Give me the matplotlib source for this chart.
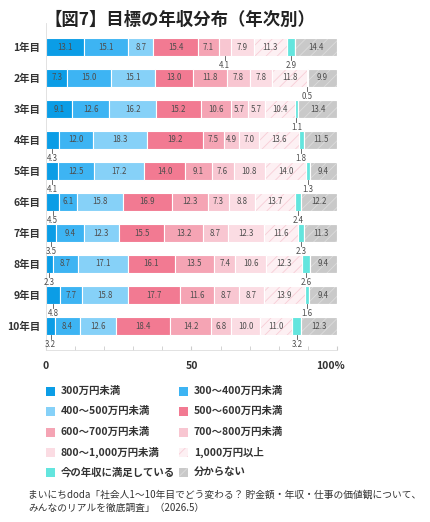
import matplotlib
matplotlib.use("Agg")
import matplotlib.pyplot as plt
from matplotlib.patches import Rectangle
from matplotlib.transforms import ScaledTranslation
import numpy as np

plt.rcParams['font.family'] = ['Noto Sans CJK JP', 'DejaVu Sans']
plt.rcParams['hatch.linewidth'] = 0.6

title = "【図7】目標の年収分布（年次別）"
years = ["1年目", "2年目", "3年目", "4年目", "5年目",
         "6年目", "7年目", "8年目", "9年目", "10年目"]
categories = ["300万円未満", "300〜400万円未満", "400〜500万円未満", "500〜600万円未満",
              "600〜700万円未満", "700〜800万円未満", "800〜1,000万円未満", "1,000万円以上",
              "今の年収に満足している", "分からない"]

# rows = years, columns = categories (%)
values = [
    [13.1, 15.1, 8.7, 15.4, 7.1, 4.1, 7.9, 11.3, 2.9, 14.4],
    [7.3, 15.0, 15.1, 13.0, 11.8, 7.8, 7.8, 11.8, 0.5, 9.9],
    [9.1, 12.6, 16.2, 15.2, 10.6, 5.7, 5.7, 10.4, 1.1, 13.4],
    [4.3, 12.0, 18.3, 19.2, 7.5, 4.9, 7.0, 13.6, 1.8, 11.5],
    [4.1, 12.5, 17.2, 14.0, 9.1, 7.6, 10.8, 14.0, 1.3, 9.4],
    [4.5, 6.1, 15.8, 16.9, 12.3, 7.3, 8.8, 13.7, 2.4, 12.2],
    [3.5, 9.4, 12.3, 15.5, 13.2, 8.7, 12.3, 11.6, 2.3, 11.3],
    [2.3, 8.7, 17.1, 16.1, 13.5, 7.4, 10.6, 12.3, 2.6, 9.4],
    [4.8, 7.7, 15.8, 17.7, 11.6, 8.7, 8.7, 13.9, 1.6, 9.4],
    [3.2, 8.4, 12.6, 18.4, 14.2, 6.8, 10.0, 11.0, 3.2, 12.3],
]

colors = ["#0b9de6", "#3db4f3", "#86d1f8", "#f27a92", "#f5a4b4",
          "#f8c6d1", "#fbdce3", "#fdf0f3", "#63e5de", "#c9c9c9"]
hatches = [None, None, None, None, None, None, None, "///", None, "///"]
hatch_colors = [None, None, None, None, None, None, None, "#f7cdd6", None, "#dcdcdc"]

source = ("まいにちdoda「社会人1〜10年目でどう変わる？ 貯金額・年収・仕事の価値観について、\n"
          "みんなのリアルを徹底調査」（2026.5）")

W, H = 431, 522
fig = plt.figure(figsize=(W / 100, H / 100), dpi=100)

# axes in pixel coordinates
ax_l, ax_r, ax_t, ax_b = 46, 337, 23, 350
ax = fig.add_axes([ax_l / W, 1 - ax_b / H, (ax_r - ax_l) / W, (ax_b - ax_t) / H])

data = np.array(values)
n = len(years)
y = np.arange(n)
bar_h = 0.55
left = np.zeros(n)
txt_color = "#4d4d4d"

for j, cat in enumerate(categories):
    vals = data[:, j]
    ax.barh(y, vals, left=left, height=bar_h, color=colors[j],
            edgecolor="white", linewidth=0.8, zorder=2)
    if hatches[j]:
        ax.barh(y, vals, left=left, height=bar_h, color="none",
                edgecolor=hatch_colors[j], linewidth=0, hatch=hatches[j], zorder=3)
        ax.barh(y, vals, left=left, height=bar_h, color="none",
                edgecolor="white", linewidth=0.8, zorder=4)
    for i, v in enumerate(vals):
        cx = left[i] + v / 2
        if v < 4.85:
            # small share: label below the bar with a short leader
            yb = y[i] + bar_h / 2
            ax.plot([cx, cx], [yb, yb + 0.13], color="#555555", lw=0.6, zorder=5,
                    clip_on=False)
            ax.text(cx, yb + 0.33, f"{v:.1f}", ha="center", va="center",
                    fontsize=5.7, color=txt_color, zorder=5)
        else:
            ax.text(cx, y[i], f"{v:.1f}", ha="center", va="center",
                    fontsize=5.7, color=txt_color, zorder=5)
    left += vals

pad_rows = 24 / 31
ax.set_ylim(n - 1 + pad_rows, -pad_rows)
ax.set_xlim(0, 100)
ax.set_yticks(y)
ax.set_yticklabels(years, fontsize=7.5, fontweight="bold", color="#333333")
ax.tick_params(axis="y", length=0, pad=4)

ax.set_xticks([0, 50, 100])
ax.set_xticklabels(["0", "50", "100%"], fontsize=7.5, fontweight="bold", color="#333333")
ax.set_xticks(np.arange(10, 100, 10), minor=True)
ax.tick_params(axis="x", which="both", direction="in", length=3, color="#cccccc", pad=8)
last = ax.get_xticklabels()[-1]
last.set_transform(last.get_transform() + ScaledTranslation(-6 / 100, 0, fig.dpi_scale_trans))

for s in ["top", "right"]:
    ax.spines[s].set_visible(False)
ax.spines["left"].set_color("#dddddd")
ax.spines["bottom"].set_color("#dddddd")
ax.spines["left"].set_linewidth(0.6)
ax.spines["bottom"].set_linewidth(0.6)

# title
fig.text(45 / W, 1 - 20 / H, title, fontsize=12.5, fontweight="bold",
         color="#222222", ha="left", va="center")

# legend, two columns
leg_rows = [391, 411, 432, 452, 472]
leg_cols = [46, 179]
sq = 9
for k, cat in enumerate(categories):
    r, c = divmod(k, 2)
    x0, yc = leg_cols[c], leg_rows[r]
    rect = Rectangle((x0 / W, 1 - (yc + sq / 2) / H), sq / W, sq / H,
                     transform=fig.transFigure, facecolor=colors[k],
                     edgecolor=hatch_colors[k] if hatches[k] else "none",
                     linewidth=0, hatch=hatches[k])
    fig.add_artist(rect)
    fig.text((x0 + sq + 6) / W, 1 - yc / H, cat, fontsize=7.5, fontweight="bold",
             color="#333333", ha="left", va="center")

fig.text(28 / W, 1 - 501 / H, source, fontsize=7, color="#333333",
         ha="left", va="center", linespacing=1.35)

fig.savefig("out.png", dpi=100, facecolor="white")
